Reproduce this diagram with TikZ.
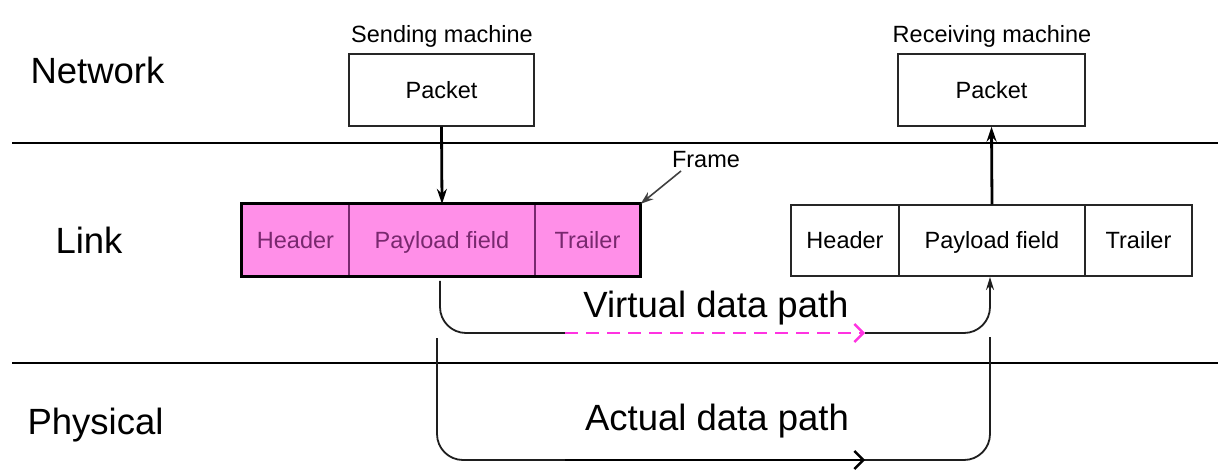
\documentclass[tikz,border=0pt]{standalone}
\usepackage{fontspec}
\setmainfont{Liberation Sans}
\usetikzlibrary{arrows.meta}
\definecolor{framepink}{RGB}{255,143,232}
\definecolor{framepurple}{RGB}{120,40,110}
\definecolor{pathpink}{RGB}{255,51,225}
\definecolor{pathgray}{RGB}{30,30,30}
\tikzset{
  small/.style={font=\fontsize{23.5}{28}\selectfont},
  big/.style={font=\fontsize{36.5}{42}\selectfont},
  box/.style={draw=black!85, line width=1.4pt, small, minimum height=72pt, inner sep=0pt,
    text height=16.8pt, text depth=0pt},
  cell/.style={draw=black!85, line width=1.3pt, small, minimum height=71pt, inner sep=0pt,
    text height=16.8pt, text depth=0pt},
  pinkcell/.style={cell, fill=framepink, draw=framepurple, text=framepurple},
  layer/.style={line width=2.6pt},
  flow/.style={line width=2.8pt, -{Stealth[length=15pt,width=10pt]}},
  datapath/.style={line width=1.8pt, draw=pathgray, rounded corners=26pt},
  opentip/.style={-{Straight Barb[length=9pt,width=18pt,line width=2.4pt]}}
}
\begin{document}
\begin{tikzpicture}[x=1pt,y=-1pt]
\useasboundingbox (0,0) rectangle (1218,470);

% layer separators
\draw[layer] (12,143) -- (1218,143);
\draw[layer] (12,363) -- (1218,363);

% layer names
\node[big, anchor=base west] (lnet) at (27,84) {Network};
\node[big, anchor=base west] (llink) at (52,254) {Link};
\node[big, anchor=base west] (lphys) at (24,434) {Physical};

% network layer packets
\node[box, minimum width=185pt] (spkt) at (441.5,90) {Packet};
\node[box, minimum width=187pt] (rpkt) at (991.5,90) {Packet};
\node[small, anchor=base] (slbl) at (442,43) {Sending machine};
\node[small, anchor=base] (rlbl) at (992,43) {Receiving machine};

% sending frame (highlighted)
\node[pinkcell, minimum width=107pt] (lh) at (295.5,240) {Header};
\node[pinkcell, minimum width=186pt] (lp) at (442,240) {Payload field};
\node[pinkcell, minimum width=105pt] (lt) at (587.5,240) {Trailer};
\draw[line width=3pt, line join=miter] (lh.north west) rectangle (lt.south east);

% receiving frame
\node[cell, minimum width=108pt] (rh) at (845,240.5) {Header};
\node[cell, minimum width=186pt] (rp) at (992,240.5) {Payload field};
\node[cell, minimum width=107pt] (rt) at (1138.5,240.5) {Trailer};

% frame callout
\node[small, anchor=base] (flbl) at (706,168) {Frame};
\coordinate (fa) at (681,171);
\draw[line width=1.6pt, draw=black!75, -{Stealth[length=13pt,width=9pt]}] (fa) -- (lt.north east);

% packet <-> frame
\draw[flow] (spkt.south) -- (lp.north);
\draw[flow] (rp.north) -- (rpkt.south);

% virtual data path
\coordinate (v0) at (440,281);
\coordinate (v1) at (565,333);
\coordinate (v2) at (865,333);
\coordinate (v3) at (990,277);
\draw[datapath] (v0) -- (440,333) -- (v1);
\draw[datapath, -{Stealth[length=13pt,width=8pt]}] (v2) -- (990,333) -- (v3);
\draw[line width=2.6pt, draw=pathpink, dash pattern=on 13pt off 8pt, opentip] (v1) -- (v2);
\node[big, anchor=base] (vlbl) at (716,318) {Virtual data path};

% actual data path
\coordinate (a0) at (437,338);
\coordinate (a1) at (990,337);
\draw[datapath] (a0) -- (437,460) -- (990,460) -- (a1);
\draw[line width=2.2pt, opentip] (565,460) -- (865,460);
\node[big, anchor=base] (albl) at (717,430) {Actual data path};
\end{tikzpicture}
\end{document}
